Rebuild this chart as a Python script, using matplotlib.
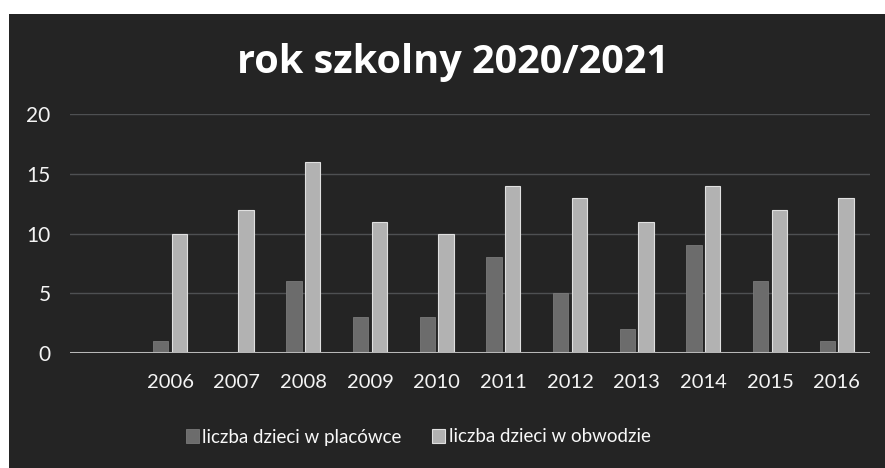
import matplotlib
matplotlib.use("Agg")
import matplotlib.pyplot as plt
import numpy as np
from matplotlib.patches import Rectangle

years = ["2006", "2007", "2008", "2009", "2010", "2011", "2012", "2013", "2014", "2015", "2016"]
placowka = [1, 0, 6, 3, 3, 8, 5, 2, 9, 6, 1]
obwod = [10, 12, 16, 11, 10, 14, 13, 11, 14, 12, 13]
title = "rok szkolny 2020/2021"
series_names = ["liczba dzieci w placówce", "liczba dzieci w obwodzie"]
yticks = [0, 5, 10, 15, 20]

plt.rcParams['font.family'] = ['Lato', 'DejaVu Sans']

fig = plt.figure(figsize=(8.85, 4.68), dpi=100)
fig.patch.set_facecolor("white")
bg = Rectangle((9 / 885, 0), 1, 1 - 14 / 468, transform=fig.transFigure,
               facecolor="#242424", edgecolor="none", zorder=-5)
fig.add_artist(bg)

ax = fig.add_axes([70 / 885, 1 - 353 / 468, 800 / 885, (353 - 114) / 468])
ax.set_facecolor("none")

x = np.arange(1, len(years) + 1)
w = 0.23
off = 0.14
ax.bar(x - off, placowka, width=w, color="#6c6c6c", edgecolor="#7a7a7a", linewidth=0.6,
       label=series_names[0], zorder=3)
ax.bar(x + off, obwod, width=w, color="#b2b2b2", edgecolor="#e0e0e0", linewidth=0.8,
       label=series_names[1], zorder=3)

ax.set_xlim(-0.5, len(years) + 0.5)
ax.set_ylim(0, 20)
ax.set_yticks(yticks)
ax.set_yticklabels([str(t) for t in yticks], color="#f4f4f4", fontsize=15)
ax.set_xticks(x)
ax.set_xticklabels(years, color="#f4f4f4", fontsize=14.5)
ax.tick_params(axis="both", length=0)
ax.tick_params(axis="x", pad=15)
ax.tick_params(axis="y", pad=14)
ax.grid(axis="y", color="#4e5052", linewidth=1.0, zorder=0)
for s in ["top", "right", "left", "bottom"]:
    ax.spines[s].set_visible(False)
ax.axhline(0, color="#b8b8b8", linewidth=2.2, zorder=4)

fig.text(453 / 885, 1 - 62 / 468, title, ha="center", va="center",
         fontsize=28.5, fontweight="bold", color="#ffffff", family=["Open Sans", "DejaVu Sans"])

leg = fig.legend(loc="center", bbox_to_anchor=(418 / 885, 1 - 437 / 468), ncol=2,
                 frameon=False, fontsize=13.5, handlelength=0.7, handleheight=0.7,
                 handletextpad=0.2, columnspacing=1.6)
for t in leg.get_texts():
    t.set_color("#f8f8f8")

fig.savefig("out.png", dpi=100, facecolor=fig.get_facecolor())
